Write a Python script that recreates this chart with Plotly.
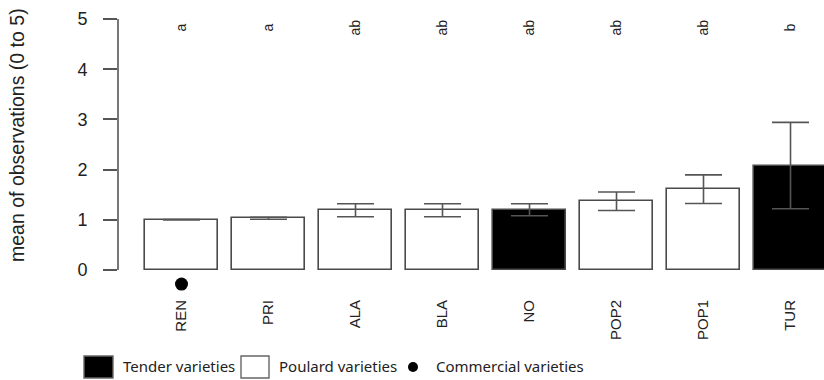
import plotly.graph_objects as go

categories = ["REN", "PRI", "ALA", "BLA", "NO", "POP2", "POP1", "TUR"]
means = [1.00, 1.03, 1.19, 1.19, 1.20, 1.37, 1.61, 2.08]
errors = [0.005, 0.02, 0.13, 0.13, 0.12, 0.185, 0.285, 0.86]
tender = [False, False, False, False, True, False, False, True]
commercial = [True, False, False, False, False, False, False, False]
letters = ["a", "a", "ab", "ab", "ab", "ab", "ab", "b"]
y_ticks = [0, 1, 2, 3, 4, 5]
legend_labels = ["Tender varieties", "Poulard varieties", "Commercial varieties"]

W, H = 824, 380
ML, MR, MT, MB = 118, 0, 10, 95
PW, PH = W - ML - MR, H - MT - MB

def px2x(p):
    return (p - ML) / PW

def py2y(p):
    return (H - MB - p) / PH

xs = list(range(len(categories)))
fills = ["black" if t else "white" for t in tender]

fig = go.Figure()
fig.add_trace(go.Bar(
    x=xs, y=means, width=0.84,
    marker=dict(color=fills, line=dict(color="#4a4a4a", width=1.6)),
    error_y=dict(type="data", array=errors, visible=True, color="#555555",
                 thickness=1.6, width=18.5),
    showlegend=False,
))
cx = [x for x, c in zip(xs, commercial) if c]
fig.add_trace(go.Scatter(
    x=cx, y=[-0.28] * len(cx), mode="markers",
    marker=dict(color="black", size=13), cliponaxis=False, showlegend=False,
))

annotations = []
for x, l in zip(xs, letters):
    annotations.append(dict(x=x, y=4.82, xref="x", yref="y", text=l, showarrow=False,
                            textangle=-90, xanchor="center", yanchor="middle",
                            font=dict(family="Liberation Sans", size=14, color="#222")))
annotations.append(dict(x=px2x(17), y=py2y(135), xref="paper", yref="paper",
                        text="mean of observations (0 to 5)", showarrow=False, textangle=-90,
                        xanchor="center", yanchor="middle",
                        font=dict(family="Liberation Sans", size=19.5, color="#222")))

shapes = [dict(type="line", xref="paper", yref="y", x0=0, x1=0, y0=0, y1=5,
               line=dict(color="#555555", width=1.6))]

# legend drawn manually
ly0, ly1 = py2y(356), py2y(378)
shapes.append(dict(type="rect", xref="paper", yref="paper", x0=px2x(84), x1=px2x(113),
                   y0=ly1, y1=ly0, fillcolor="black", line=dict(color="#666", width=1.4)))
shapes.append(dict(type="rect", xref="paper", yref="paper", x0=px2x(241), x1=px2x(269),
                   y0=ly1, y1=ly0, fillcolor="white", line=dict(color="#666", width=1.4)))
shapes.append(dict(type="circle", xref="paper", yref="paper", x0=px2x(408), x1=px2x(418),
                   y0=py2y(372), y1=py2y(362), fillcolor="black", line=dict(color="black", width=0)))
for lx, lab in zip([121, 277, 434], legend_labels):
    annotations.append(dict(x=px2x(lx), y=py2y(366), xref="paper", yref="paper", text=lab,
                            showarrow=False, xanchor="left", yanchor="middle",
                            font=dict(family="Noto Sans", size=15, color="#222")))

fig.update_layout(
    width=W, height=H,
    margin=dict(l=ML, r=MR, t=MT, b=MB),
    plot_bgcolor="white", paper_bgcolor="white",
    xaxis=dict(range=[-0.73, 7.385], tickmode="array", tickvals=xs, ticktext=categories,
               tickangle=-90, showgrid=False, zeroline=False, showline=False, ticks="",
               ticklabelstandoff=11,
               tickfont=dict(family="Liberation Sans", size=15, color="#222")),
    yaxis=dict(range=[(270 - (H - MB)) / 50.2, (270 - MT) / 50.2],
               tickmode="array", tickvals=y_ticks, ticks="outside", ticklen=14,
               tickcolor="#555555", tickwidth=1.6, ticklabelstandoff=12,
               showgrid=False, zeroline=False, showline=False,
               tickfont=dict(family="Liberation Sans", size=18, color="#222")),
    annotations=annotations, shapes=shapes,
    bargap=0,
)
fig.write_html("out.html")
